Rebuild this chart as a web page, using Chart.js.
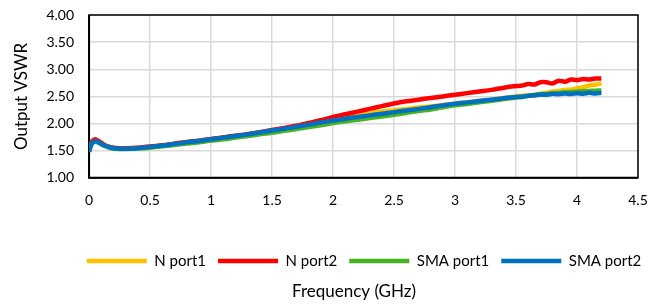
<!DOCTYPE html>
<html>
<head>
<meta charset="utf-8">
<script src="https://cdn.jsdelivr.net/npm/chart.js@4/dist/chart.umd.min.js"></script>
<style>
  html, body { margin: 0; padding: 0; background: #fff; }
  #wrap { width: 665px; height: 306px; }
</style>
</head>
<body>
<div id="wrap"><canvas id="c" width="665" height="306"></canvas></div>
<script>
const freq = [0, 0.02, 0.05, 0.08, 0.12, 0.16, 0.2, 0.25, 0.3, 0.4, 0.5, 0.6, 0.7, 0.8, 0.9, 1.0,
  1.1, 1.2, 1.3, 1.4, 1.5, 1.6, 1.7, 1.8, 1.9, 2.0, 2.1, 2.2, 2.3, 2.4, 2.5, 2.6, 2.7, 2.8, 2.9, 3.0,
  3.1, 3.2, 3.3, 3.4, 3.5, 3.55, 3.6, 3.65, 3.7, 3.75, 3.8, 3.85, 3.9, 3.95, 4.0, 4.05, 4.1, 4.15, 4.2];

const nPort1 = [1.50, 1.63, 1.69, 1.655, 1.605, 1.57, 1.55, 1.54, 1.54, 1.55, 1.57, 1.595, 1.625, 1.655, 1.68, 1.71,
  1.74, 1.77, 1.80, 1.835, 1.87, 1.905, 1.945, 1.99, 2.035, 2.08, 2.12, 2.155, 2.19, 2.22, 2.245, 2.27, 2.295, 2.315, 2.34, 2.365,
  2.39, 2.415, 2.44, 2.47, 2.50, 2.51, 2.52, 2.53, 2.55, 2.565, 2.59, 2.60, 2.62, 2.625, 2.65, 2.67, 2.70, 2.715, 2.74];

const nPort2 = [1.60, 1.66, 1.71, 1.675, 1.615, 1.575, 1.555, 1.545, 1.545, 1.555, 1.575, 1.60, 1.63, 1.66, 1.685, 1.715,
  1.745, 1.775, 1.805, 1.84, 1.88, 1.92, 1.96, 2.01, 2.06, 2.12, 2.17, 2.22, 2.27, 2.32, 2.37, 2.41, 2.44, 2.47, 2.50, 2.53,
  2.56, 2.59, 2.62, 2.66, 2.69, 2.70, 2.73, 2.72, 2.76, 2.76, 2.74, 2.79, 2.77, 2.81, 2.80, 2.82, 2.81, 2.83, 2.83];

const smaPort1 = [1.50, 1.62, 1.67, 1.645, 1.595, 1.56, 1.54, 1.53, 1.53, 1.54, 1.555, 1.58, 1.605, 1.63, 1.655, 1.685,
  1.71, 1.74, 1.77, 1.80, 1.83, 1.865, 1.90, 1.935, 1.97, 2.01, 2.04, 2.07, 2.10, 2.13, 2.16, 2.195, 2.23, 2.26, 2.30, 2.335,
  2.36, 2.39, 2.42, 2.45, 2.48, 2.49, 2.51, 2.52, 2.54, 2.545, 2.56, 2.565, 2.575, 2.58, 2.59, 2.595, 2.60, 2.605, 2.61];

const smaPort2 = [1.48, 1.62, 1.68, 1.65, 1.60, 1.565, 1.545, 1.535, 1.535, 1.545, 1.57, 1.595, 1.625, 1.655, 1.68, 1.71,
  1.74, 1.77, 1.80, 1.835, 1.87, 1.905, 1.94, 1.98, 2.02, 2.055, 2.09, 2.12, 2.15, 2.18, 2.21, 2.24, 2.27, 2.30, 2.335, 2.365,
  2.39, 2.415, 2.44, 2.465, 2.49, 2.495, 2.51, 2.52, 2.535, 2.53, 2.55, 2.54, 2.555, 2.545, 2.56, 2.55, 2.565, 2.555, 2.565];

const seriesNames = ['N port1', 'N port2', 'SMA port1', 'SMA port2'];
const seriesColors = ['#FFC000', '#FF0000', '#46B41E', '#0070C0'];
const seriesValues = [nPort1, nPort2, smaPort1, smaPort2];

const xTicks = [0, 0.5, 1, 1.5, 2, 2.5, 3, 3.5, 4, 4.5];
const yTicks = [1.0, 1.5, 2.0, 2.5, 3.0, 3.5, 4.0];

const FONT = 'Lato, "Open Sans", sans-serif';

const frameAndShift = {
  id: 'frameAndShift',
  afterLayout(chart) {
    const ca = chart.chartArea;
    const shift = (ca.left + ca.right) / 2 - chart.width / 2;
    if (chart.legend) { chart.legend.left += shift + 10; chart.legend.right += shift + 10; }
    if (chart.titleBlock) { chart.titleBlock.left += shift; chart.titleBlock.right += shift; }
  },
  beforeDatasetsDraw(chart) {
    const {ctx, chartArea: a} = chart;
    ctx.save();
    ctx.strokeStyle = '#000';
    ctx.lineWidth = 1.5;
    ctx.strokeRect(a.left, a.top, a.right - a.left, a.bottom - a.top);
    ctx.lineWidth = 2;
    ctx.beginPath();
    ctx.moveTo(a.left, a.top);
    ctx.lineTo(a.left, a.bottom);
    ctx.lineTo(a.right, a.bottom);
    ctx.stroke();
    ctx.restore();
  }
};

new Chart(document.getElementById('c'), {
  type: 'line',
  data: {
    datasets: seriesNames.map((name, i) => ({
      label: name,
      data: freq.map((f, j) => ({x: f, y: seriesValues[i][j]})),
      borderColor: seriesColors[i],
      backgroundColor: seriesColors[i],
      borderWidth: 4.5,
      pointRadius: 0,
      tension: 0.3,
      fill: false,
      order: seriesNames.length - i
    }))
  },
  options: {
    responsive: false,
    animation: false,
    layout: { padding: { left: 8, right: 27, top: 15, bottom: 2 } },
    plugins: {
      legend: {
        position: 'bottom',
        labels: {
          font: { family: FONT, size: 15 },
          color: '#000',
          usePointStyle: true,
          pointStyle: 'line',
          pointStyleWidth: 60,
          boxHeight: 15,
          padding: 12,
          sort: (a, b) => a.datasetIndex - b.datasetIndex
        }
      },
      title: {
        display: true,
        position: 'bottom',
        text: 'Frequency (GHz)',
        color: '#000',
        font: { family: FONT, size: 17, weight: 'normal' },
        padding: { top: 3, bottom: 2 }
      },
      tooltip: { enabled: false }
    },
    scales: {
      x: {
        type: 'linear',
        min: 0, max: 4.5,
        afterBuildTicks: (s) => { s.ticks = xTicks.map(v => ({value: v})); },
        ticks: { font: { family: FONT, size: 14 }, color: '#000', padding: 14, callback: v => String(v) },
        grid: { color: '#d9d9d9', lineWidth: 1.5, drawTicks: false },
        border: { display: false },
        afterFit: (s) => { s.height += 19; }
      },
      y: {
        min: 1, max: 4,
        afterBuildTicks: (s) => { s.ticks = yTicks.map(v => ({value: v})); },
        ticks: { font: { family: FONT, size: 14 }, color: '#000', padding: 15, callback: v => v.toFixed(2) },
        grid: { color: '#d9d9d9', lineWidth: 1.5, drawTicks: false },
        border: { display: false },
        afterFit: (s) => { s.paddingTop = 0; s.paddingBottom = 0; },
        title: {
          display: true,
          text: 'Output VSWR',
          color: '#000',
          font: { family: FONT, size: 17 },
          padding: { top: 3, bottom: 0 }
        }
      }
    }
  },
  plugins: [frameAndShift]
});
</script>
</body>
</html>
